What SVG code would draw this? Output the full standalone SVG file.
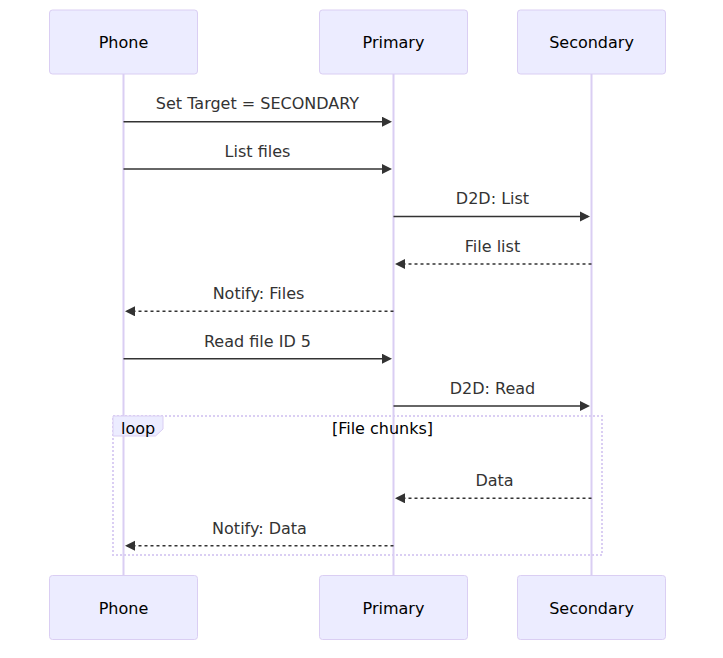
<svg xmlns="http://www.w3.org/2000/svg" width="723" height="658" viewBox="0 0 723 658">
<style>
.actor{fill:#ECECFF;stroke:#DACEF3;stroke-width:1}
.atext{font-family:"DejaVu Sans",sans-serif;font-size:16px;fill:#000;text-anchor:middle}
.life{stroke:#DACEF3;stroke-width:2}
.msg{stroke:#333;stroke-width:1.5;fill:none}
.dot{stroke-dasharray:3,3}
.mtext{font-family:"DejaVu Sans",sans-serif;font-size:16px;fill:#333;text-anchor:middle}
.loopline{fill:none;stroke:#DACEF3;stroke-width:2;stroke-dasharray:2,2}
.lbox{fill:#ECECFF;stroke:#DACEF3;stroke-width:1}
.ltext{font-family:"DejaVu Sans",sans-serif;font-size:16px;fill:#000}
</style>
<defs>
<marker id="arrow" markerUnits="userSpaceOnUse" markerWidth="12" markerHeight="12" refX="8" refY="5" orient="auto">
<path d="M0,0 L10,5 L0,10 z" fill="#333"/>
</marker>
</defs>
<g id="lifelines">
<line class="life" x1="123.5" y1="74" x2="123.5" y2="575"/>
<line class="life" x1="393.5" y1="74" x2="393.5" y2="575"/>
<line class="life" x1="591.5" y1="74" x2="591.5" y2="575"/>
</g>
<g id="loop">
<rect class="loopline" x="113" y="416" width="489" height="139"/>
<polygon class="lbox" points="113,416 163,416 163,429 155.5,436 113,436"/>
<text class="ltext" x="121" y="434">loop</text>
<text class="ltext" x="382.5" y="434" text-anchor="middle">[File chunks]</text>
</g>
<g id="actor-phone-top"><rect class="actor" x="49.5" y="10" width="148" height="64" rx="3"/><text class="atext" x="123.5" y="48">Phone</text></g>
<g id="actor-primary-top"><rect class="actor" x="319.5" y="10" width="148" height="64" rx="3"/><text class="atext" x="393.5" y="48">Primary</text></g>
<g id="actor-secondary-top"><rect class="actor" x="517.5" y="10" width="148" height="64" rx="3"/><text class="atext" x="591.5" y="48">Secondary</text></g>
<g id="actor-phone-bottom"><rect class="actor" x="49.5" y="575.5" width="148" height="64" rx="3"/><text class="atext" x="123.5" y="614">Phone</text></g>
<g id="actor-primary-bottom"><rect class="actor" x="319.5" y="575.5" width="148" height="64" rx="3"/><text class="atext" x="393.5" y="614">Primary</text></g>
<g id="actor-secondary-bottom"><rect class="actor" x="517.5" y="575.5" width="148" height="64" rx="3"/><text class="atext" x="591.5" y="614">Secondary</text></g>
<g id="connectors">
<text class="mtext" x="257.5" y="109">Set Target = SECONDARY</text>
<line class="msg" x1="123.5" y1="121.7" x2="390" y2="121.7" marker-end="url(#arrow)"/>
<text class="mtext" x="257.5" y="157">List files</text>
<line class="msg" x1="123.5" y1="169" x2="390" y2="169" marker-end="url(#arrow)"/>
<text class="mtext" x="492.5" y="204">D2D: List</text>
<line class="msg" x1="393.5" y1="216.4" x2="588" y2="216.4" marker-end="url(#arrow)"/>
<text class="mtext" x="492.5" y="252">File list</text>
<line class="msg dot" x1="591.5" y1="264" x2="397" y2="264" marker-end="url(#arrow)"/>
<text class="mtext" x="258.5" y="299">Notify: Files</text>
<line class="msg dot" x1="393.5" y1="311.3" x2="127" y2="311.3" marker-end="url(#arrow)"/>
<text class="mtext" x="257.5" y="347">Read file ID 5</text>
<line class="msg" x1="123.5" y1="358.7" x2="390" y2="358.7" marker-end="url(#arrow)"/>
<text class="mtext" x="492.5" y="394">D2D: Read</text>
<line class="msg" x1="393.5" y1="406" x2="588" y2="406" marker-end="url(#arrow)"/>
<text class="mtext" x="494.5" y="486">Data</text>
<line class="msg dot" x1="591.5" y1="498.3" x2="397" y2="498.3" marker-end="url(#arrow)"/>
<text class="mtext" x="259.5" y="534">Notify: Data</text>
<line class="msg dot" x1="393.5" y1="545.7" x2="127" y2="545.7" marker-end="url(#arrow)"/>
</g>
</svg>
